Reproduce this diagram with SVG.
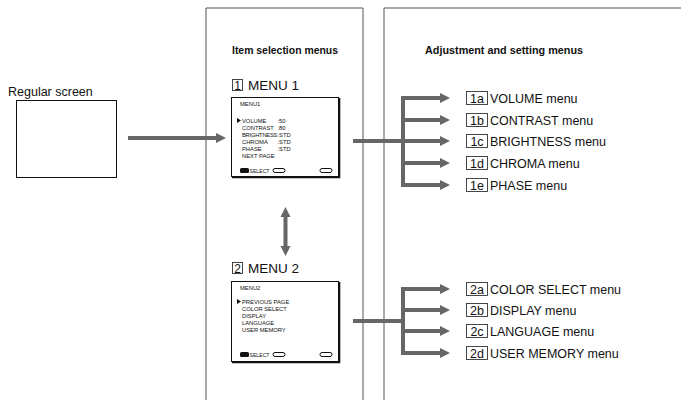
<svg xmlns="http://www.w3.org/2000/svg" width="681" height="400" viewBox="0 0 681 400">
<defs>
<style>
text{font-family:"Liberation Sans",Arial,sans-serif;fill:#111}
.hd{font-size:11.5px;font-weight:bold}
.lb{font-size:12.5px}
.mn{font-size:13.5px}
.sc{font-size:5.8px}
.panel{fill:none;stroke:#555;stroke-width:1}
.box{fill:#fff;stroke:#333;stroke-width:0.9}
.scr{fill:#fff;stroke:#111;stroke-width:1}
.conn{fill:none;stroke:#666;stroke-width:4}
</style>
<marker id="ah" viewBox="0 0 10 10" refX="0" refY="5" markerWidth="10" markerHeight="11" markerUnits="userSpaceOnUse" orient="auto-start-reverse">
<path d="M0,0 L10,5 L0,10 z" fill="#666"/>
</marker>
</defs>
<rect width="681" height="400" fill="#fff"/>

<g id="panel-item">
<path class="panel" d="M206,400 V8 H363 V400"/>
<text class="hd" x="285" y="54" text-anchor="middle" textLength="106" lengthAdjust="spacingAndGlyphs">Item selection menus</text>
</g>
<g id="panel-adjust">
<path class="panel" d="M384,400 V8 H682"/>
<text class="hd" x="425" y="54" textLength="158" lengthAdjust="spacingAndGlyphs">Adjustment and setting menus</text>
</g>

<g id="regular">
<text class="lb" x="8" y="96">Regular screen</text>
<rect class="scr" x="16.5" y="100.5" width="100" height="77"/>
</g>

<g id="menu1">
<rect class="box" x="232.5" y="79.5" width="10" height="11"/>
<text class="mn" x="237.5" y="89.5" text-anchor="middle" style="font-size:12px">1</text>
<text class="mn" x="248" y="90">MENU 1</text>
<rect class="scr" x="231.5" y="97.5" width="107" height="79"/>
<path d="M232,177.5 H339.5 V98" fill="none" stroke="#111" stroke-width="1.6"/>
<text class="sc" x="240" y="106">MENU1</text>
<path d="M237,118 L241,120.5 L237,123 z" fill="#111"/>
<text class="sc" x="242" y="122.5">VOLUME<tspan x="277.5">:50</tspan></text>
<text class="sc" x="242" y="129.5">CONTRAST<tspan x="277.5">:80</tspan></text>
<text class="sc" x="242" y="136.5" style="letter-spacing:-0.25px">BRIGHTNESS<tspan x="277.5" style="letter-spacing:0">:STD</tspan></text>
<text class="sc" x="242" y="143.5">CHROMA<tspan x="277.5">:STD</tspan></text>
<text class="sc" x="242" y="150.5">PHASE<tspan x="277.5">:STD</tspan></text>
<text class="sc" x="242" y="157.5">NEXT PAGE</text>
<rect x="240" y="168" width="9" height="5" rx="1.5" fill="#111"/>
<text class="sc" x="249.5" y="173" textLength="20" lengthAdjust="spacingAndGlyphs">SELECT</text>
<rect x="273" y="168.5" width="12" height="4" rx="2" fill="#fff" stroke="#111" stroke-width="1"/>
<rect x="320" y="168.5" width="12" height="4" rx="2" fill="#fff" stroke="#111" stroke-width="1"/>
</g>

<g id="menu2">
<rect class="box" x="232.5" y="262.5" width="10" height="11"/>
<text class="mn" x="237.5" y="272.5" text-anchor="middle" style="font-size:12px">2</text>
<text class="mn" x="248" y="273">MENU 2</text>
<rect class="scr" x="231.5" y="281.5" width="107" height="80"/>
<path d="M232,362.5 H339.5 V282" fill="none" stroke="#111" stroke-width="1.6"/>
<text class="sc" x="240" y="290">MENU2</text>
<path d="M237,299 L241,301.5 L237,304 z" fill="#111"/>
<text class="sc" x="242" y="303.5">PREVIOUS PAGE</text>
<text class="sc" x="242" y="310.5">COLOR SELECT</text>
<text class="sc" x="242" y="317.5">DISPLAY</text>
<text class="sc" x="242" y="324.5">LANGUAGE</text>
<text class="sc" x="242" y="331.5">USER MEMORY</text>
<rect x="240" y="352" width="9" height="5" rx="1.5" fill="#111"/>
<text class="sc" x="249.5" y="357" textLength="20" lengthAdjust="spacingAndGlyphs">SELECT</text>
<rect x="273" y="352.5" width="12" height="4" rx="2" fill="#fff" stroke="#111" stroke-width="1"/>
<rect x="320" y="352.5" width="12" height="4" rx="2" fill="#fff" stroke="#111" stroke-width="1"/>
</g>

<g id="labels1">
<rect class="box" x="466.5" y="91.5" width="21" height="13"/><text class="lb" x="477" y="102.5" text-anchor="middle">1a</text><text class="lb" x="490" y="102.5">VOLUME menu</text>
<rect class="box" x="466.5" y="113.5" width="21" height="13"/><text class="lb" x="477" y="124.5" text-anchor="middle">1b</text><text class="lb" x="490" y="124.5">CONTRAST menu</text>
<rect class="box" x="466.5" y="134.5" width="21" height="13"/><text class="lb" x="477" y="145.5" text-anchor="middle">1c</text><text class="lb" x="490" y="145.5">BRIGHTNESS menu</text>
<rect class="box" x="466.5" y="156.5" width="21" height="13"/><text class="lb" x="477" y="167.5" text-anchor="middle">1d</text><text class="lb" x="490" y="167.5">CHROMA menu</text>
<rect class="box" x="466.5" y="178.5" width="21" height="13"/><text class="lb" x="477" y="189.5" text-anchor="middle">1e</text><text class="lb" x="490" y="189.5">PHASE menu</text>
</g>
<g id="labels2">
<rect class="box" x="466.5" y="282.5" width="21" height="13"/><text class="lb" x="477" y="293.5" text-anchor="middle">2a</text><text class="lb" x="490" y="293.5">COLOR SELECT menu</text>
<rect class="box" x="466.5" y="303.5" width="21" height="13"/><text class="lb" x="477" y="314.5" text-anchor="middle">2b</text><text class="lb" x="490" y="314.5">DISPLAY menu</text>
<rect class="box" x="466.5" y="324.5" width="21" height="13"/><text class="lb" x="477" y="335.5" text-anchor="middle">2c</text><text class="lb" x="490" y="335.5">LANGUAGE menu</text>
<rect class="box" x="466.5" y="346.5" width="21" height="13"/><text class="lb" x="477" y="357.5" text-anchor="middle">2d</text><text class="lb" x="490" y="357.5">USER MEMORY menu</text>
</g>

<g id="connectors">
<line class="conn" x1="128" y1="138" x2="216" y2="138" marker-end="url(#ah)"/>
<line class="conn" x1="285.5" y1="217" x2="285.5" y2="246" marker-start="url(#ah)" marker-end="url(#ah)"/>
<path class="conn" d="M353,141 H403"/>
<path class="conn" d="M403,96 V187"/>
<line class="conn" x1="401" y1="98" x2="440" y2="98" marker-end="url(#ah)"/>
<line class="conn" x1="403" y1="120" x2="440" y2="120" marker-end="url(#ah)"/>
<line class="conn" x1="403" y1="141" x2="440" y2="141" marker-end="url(#ah)"/>
<line class="conn" x1="403" y1="163" x2="440" y2="163" marker-end="url(#ah)"/>
<line class="conn" x1="401" y1="185" x2="440" y2="185" marker-end="url(#ah)"/>
<path class="conn" d="M353,321 H403"/>
<path class="conn" d="M403,287 V355"/>
<line class="conn" x1="401" y1="289" x2="440" y2="289" marker-end="url(#ah)"/>
<line class="conn" x1="403" y1="310" x2="440" y2="310" marker-end="url(#ah)"/>
<line class="conn" x1="403" y1="331" x2="440" y2="331" marker-end="url(#ah)"/>
<line class="conn" x1="401" y1="353" x2="440" y2="353" marker-end="url(#ah)"/>
</g>
</svg>
